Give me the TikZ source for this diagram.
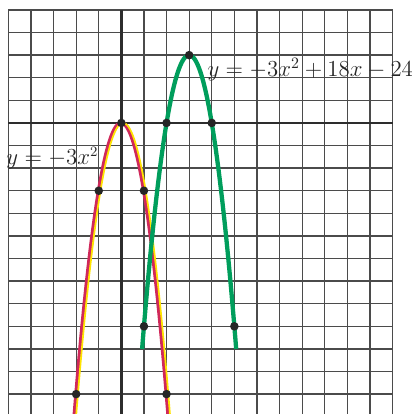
\documentclass[tikz,border=0pt]{standalone}
\usepackage{tikz}

\definecolor{gridgray}{RGB}{75,75,75}
\definecolor{axisgray}{RGB}{45,45,45}
\definecolor{curvered}{RGB}{208,40,90}
\definecolor{curveyellow}{RGB}{255,228,0}
\definecolor{curvegreen}{RGB}{0,158,92}

\begin{document}
\begin{tikzpicture}[x=0.5cm, y=0.5cm,
    ptdot/.style={circle, fill=black!85, inner sep=0pt, minimum size=5.4pt},
    eqlabel/.style={font=\fontsize{13.3}{16}\selectfont, inner sep=0pt, text=black!85}]
    \useasboundingbox (-5.37,-12.88) rectangle (12.82,5.44);
    \fill[white] (-5.37,-12.88) rectangle (12.82,5.44);

    % Grid paper
    \begin{scope}
        \clip (-5.37,-12.88) rectangle (12.82,5.44);
        \draw[gridgray, line width=0.8pt, step=0.5cm] (-5,-13) grid (12,5);
        \draw[gridgray, line width=1.1pt] (-5,5) -- (12,5); % Top edge
        \draw[gridgray, line width=1.1pt] (-5,4) -- (12,4);

        % Axes
        \draw[axisgray, line width=1.5pt] (-5,0) -- (12,0); % x-axis
        \draw[axisgray, line width=1.5pt] (0,5) -- (0,-13); % y-axis

        % y = -3x^2
        \draw[curvered, line width=2.4pt] plot[domain=-2.1:2.1, samples=80, smooth] (\x,{-3*\x*\x});
        \draw[curveyellow, line width=1.1pt, xshift=1.1pt] plot[domain=-2.1:2.1, samples=80, smooth] (\x,{-3*\x*\x});

        % y = -3x^2 + 18x - 24
        \draw[curvegreen, line width=2.7pt] plot[domain=0.918:5.082, samples=80, smooth] (\x,{-3*(\x-3)*(\x-3)+3});
    \end{scope}

    % Points on y = -3x^2
    \node[ptdot] (r0) at (0,0) {};
    \node[ptdot] (rl1) at (-1,-3) {};
    \node[ptdot] (rr1) at (1,-3) {};
    \node[ptdot] (rl2) at (-2,-12) {};
    \node[ptdot] (rr2) at (2,-12) {};

    % Points on y = -3x^2 + 18x - 24
    \node[ptdot] (g0) at (3,3) {};
    \node[ptdot] (gl1) at (2,0) {};
    \node[ptdot] (gr1) at (4,0) {};
    \node[ptdot] (gl2) at (1,-9) {};
    \node[ptdot] (gr2) at (5,-9) {};

    % Labels
    \node[eqlabel, anchor=base west] (redlabel) at (-5.1,-1.86) {$y = -3x^2$};
    \node[eqlabel, anchor=base west, font=\fontsize{14.3}{17}\selectfont] (greenlabel) at (3.8,2.04) {$y = -3x^2 + 18x - 24$};
\end{tikzpicture}
\end{document}
